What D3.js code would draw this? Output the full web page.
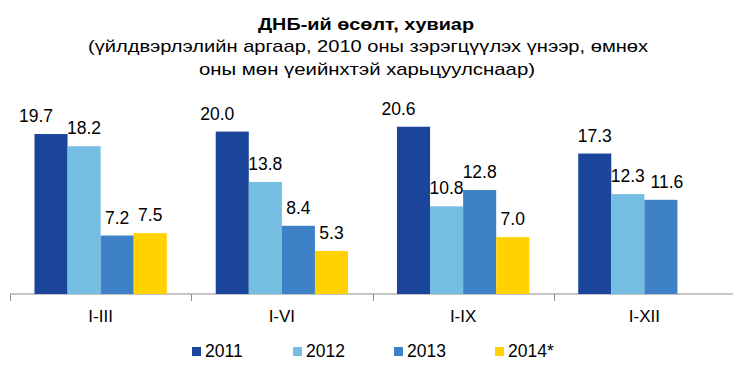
<!DOCTYPE html>
<html>
<head>
<meta charset="utf-8">
<script src="https://cdn.jsdelivr.net/npm/d3@7"></script>
<style>
  body { margin: 0; background: #fff; }
  text { font-family: "Liberation Sans", Arial, sans-serif; fill: #000; }
</style>
</head>
<body>
<div id="chart"></div>
<script>
const periods = ["I-III", "I-VI", "I-IX", "I-XII"];
const seriesNames = ["2011", "2012", "2013", "2014*"];
const s2011 = [19.7, 20.0, 20.6, 17.3];
const s2012 = [18.2, 13.8, 10.8, 12.3];
const s2013 = [7.2, 8.4, 12.8, 11.6];
const s2014 = [7.5, 5.3, 7.0, null];
const colors = ["#1B449B", "#75BDE1", "#3E81C6", "#FFD200"];

const width = 733, height = 372;
const margin = { left: 10, right: -2, top: 91, bottom: 78 };

const svg = d3.select("#chart")
  .append("svg")
  .attr("width", width)
  .attr("height", height);

// title (text is a bit wider than Arial in the source, so fit to width)
svg.append("text")
  .attr("x", 258).attr("y", 30)
  .attr("textLength", 216).attr("lengthAdjust", "spacingAndGlyphs")
  .style("font-size", "17px").style("font-weight", "bold")
  .text("ДНБ-ий өсөлт, хувиар");
svg.append("text")
  .attr("x", 88).attr("y", 52)
  .attr("textLength", 560).attr("lengthAdjust", "spacingAndGlyphs")
  .style("font-size", "17px")
  .text("(үйлдвэрлэлийн аргаар, 2010 оны зэрэгцүүлэх үнээр, өмнөх");
svg.append("text")
  .attr("x", 199).attr("y", 75)
  .attr("textLength", 336).attr("lengthAdjust", "spacingAndGlyphs")
  .style("font-size", "17px")
  .text("оны мөн үеийнхтэй харьцуулснаар)");

const allSeries = [s2011, s2012, s2013, s2014];
const rows = periods.map((p, i) => ({
  period: p,
  values: allSeries.map((s, j) => ({ key: seriesNames[j], idx: j, value: s[i] }))
    .filter(d => d.value !== null)
}));

const x0 = d3.scaleBand()
  .domain(periods)
  .range([margin.left, width - margin.right])
  .paddingInner(0)
  .paddingOuter(0);

const x1 = d3.scaleBand()
  .domain(seriesNames)
  .range([0, x0.bandwidth()])
  .paddingOuter(0.74)
  .paddingInner(0);

const y = d3.scaleLinear()
  .domain([0, 25])
  .range([height - margin.bottom, margin.top]);

// axis
const axisY = y(0);
svg.append("line")
  .attr("x1", margin.left).attr("x2", width)
  .attr("y1", axisY).attr("y2", axisY)
  .attr("stroke", "#8c8c8c").attr("stroke-width", 1);

const seps = periods.map(p => x0(p)).concat([x0.range()[1]]);
svg.selectAll("line.sep")
  .data(seps)
  .enter().append("line")
  .attr("class", "sep")
  .attr("x1", d => Math.round(d) + 0.5).attr("x2", d => Math.round(d) + 0.5)
  .attr("y1", axisY).attr("y2", axisY + 7)
  .attr("stroke", "#8c8c8c");

svg.selectAll("text.cat")
  .data(periods)
  .enter().append("text")
  .attr("class", "cat")
  .attr("x", d => x0(d) + x0.bandwidth() / 2)
  .attr("y", 322)
  .attr("text-anchor", "middle")
  .style("font-size", "17px")
  .text(d => d);

// bars
const group = svg.selectAll("g.grp")
  .data(rows)
  .enter().append("g")
  .attr("class", "grp")
  .attr("transform", d => `translate(${x0(d.period)},0)`);

group.selectAll("rect")
  .data(d => d.values)
  .enter().append("rect")
  .attr("x", d => x1(d.key))
  .attr("width", x1.bandwidth())
  .attr("y", d => y(d.value))
  .attr("height", d => axisY - y(d.value))
  .attr("fill", d => colors[d.idx]);

// labels were hand-moved in the original to avoid overlaps
const nudge = (d) => {
  if (d.idx === 0 && d.gi < 3) return -15;
  if (d.idx === 2 && d.gi === 3) return 6;
  return 0;
};

group.selectAll("text")
  .data((d, gi) => d.values.map(v => ({ ...v, gi })))
  .enter().append("text")
  .attr("x", d => x1(d.key) + x1.bandwidth() / 2 + nudge(d))
  .attr("y", d => y(d.value) - 12)
  .attr("text-anchor", "middle")
  .style("font-size", "17.5px")
  .text(d => d3.format(".1f")(d.value));

// legend
const legend = svg.selectAll("g.leg")
  .data(seriesNames)
  .enter().append("g")
  .attr("class", "leg")
  .attr("transform", (d, i) => `translate(${192 + i * 101},${347})`);

legend.append("rect")
  .attr("x", 0).attr("y", 0)
  .attr("width", 9).attr("height", 9)
  .attr("fill", (d, i) => colors[i]);

legend.append("text")
  .attr("x", 13).attr("y", 10)
  .style("font-size", "17.5px")
  .text(d => d);
</script>
</body>
</html>
